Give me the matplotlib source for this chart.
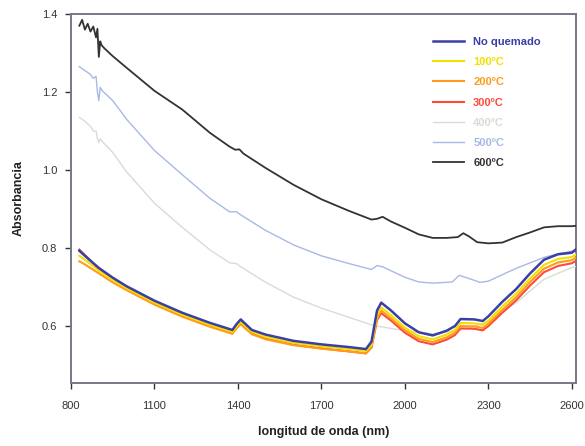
import matplotlib
matplotlib.use("Agg")
import matplotlib.pyplot as plt

plt.rcParams['font.family'] = ['Liberation Sans', 'DejaVu Sans']

# ---- data ----
wl_low = [830, 850, 900, 950, 1000, 1100, 1200, 1300, 1380, 1395, 1410, 1420, 1450, 1500,
          1600, 1700, 1800, 1860, 1880, 1900, 1915, 1950, 2000, 2050, 2100, 2150, 2180,
          2200, 2250, 2280, 2300, 2350, 2400, 2450, 2500, 2550, 2600, 2630]
no_quemado = [0.793, 0.780, 0.749, 0.724, 0.702, 0.665, 0.634, 0.608, 0.590, 0.605, 0.617, 0.610,
              0.590, 0.578, 0.562, 0.553, 0.546, 0.541, 0.560, 0.640, 0.660, 0.640, 0.607, 0.584,
              0.576, 0.588, 0.600, 0.618, 0.617, 0.613, 0.625, 0.662, 0.695, 0.735, 0.770, 0.784,
              0.788, 0.805]
t100 = [0.780, 0.770, 0.742, 0.718, 0.697, 0.660, 0.629, 0.603, 0.585, 0.599, 0.611, 0.604,
        0.585, 0.572, 0.557, 0.548, 0.541, 0.536, 0.552, 0.628, 0.648, 0.628, 0.596, 0.574,
        0.566, 0.578, 0.590, 0.608, 0.607, 0.603, 0.614, 0.650, 0.683, 0.722, 0.757, 0.772,
        0.777, 0.790]
t200 = [0.766, 0.758, 0.735, 0.712, 0.692, 0.655, 0.624, 0.598, 0.580, 0.594, 0.605, 0.598,
        0.579, 0.566, 0.551, 0.542, 0.535, 0.530, 0.546, 0.620, 0.640, 0.620, 0.589, 0.567,
        0.559, 0.571, 0.583, 0.600, 0.599, 0.595, 0.606, 0.641, 0.674, 0.713, 0.747, 0.763,
        0.769, 0.782]
t300 = [0.796, 0.782, 0.746, 0.720, 0.698, 0.660, 0.628, 0.601, 0.583, 0.596, 0.607, 0.600,
        0.581, 0.568, 0.552, 0.543, 0.535, 0.530, 0.545, 0.615, 0.633, 0.614, 0.583, 0.561,
        0.553, 0.565, 0.577, 0.594, 0.593, 0.589, 0.600, 0.634, 0.666, 0.704, 0.738, 0.754,
        0.761, 0.774]

wl_400 = [830, 850, 870, 880, 890, 895, 900, 905, 910, 950, 1000, 1100, 1200, 1300, 1370,
          1395, 1410, 1500, 1600, 1700, 1800, 1880, 1900, 2000, 2100, 2200, 2300, 2400, 2500,
          2600, 2630]
t400 = [1.135, 1.125, 1.112, 1.100, 1.100, 1.080, 1.070, 1.080, 1.075, 1.045, 0.995, 0.915,
        0.853, 0.795, 0.762, 0.760, 0.752, 0.712, 0.674, 0.646, 0.622, 0.603, 0.600, 0.588,
        0.580, 0.590, 0.610, 0.660, 0.720, 0.750, 0.755]

wl_500 = [830, 850, 870, 880, 890, 895, 900, 905, 910, 950, 1000, 1100, 1200, 1300, 1370,
          1395, 1410, 1500, 1600, 1700, 1800, 1880, 1900, 1920, 2000, 2050, 2100, 2170, 2195,
          2230, 2270, 2300, 2360, 2400, 2450, 2500, 2550, 2600, 2630]
t500 = [1.265, 1.255, 1.245, 1.235, 1.240, 1.200, 1.178, 1.212, 1.205, 1.178, 1.130, 1.050,
        0.988, 0.927, 0.893, 0.893, 0.885, 0.845, 0.808, 0.780, 0.760, 0.745, 0.755, 0.752,
        0.725, 0.713, 0.710, 0.713, 0.730, 0.722, 0.712, 0.715, 0.735, 0.748, 0.762, 0.776,
        0.785, 0.792, 0.797]

wl_600 = [830, 840, 850, 860, 870, 880, 890, 895, 900, 905, 910, 920, 950, 1000, 1100, 1200,
          1300, 1370, 1390, 1405, 1420, 1500, 1600, 1700, 1800, 1880, 1900, 1920, 1950, 2000,
          2050, 2100, 2150, 2190, 2210, 2230, 2260, 2300, 2350, 2400, 2450, 2500, 2550, 2600,
          2630]
t600 = [1.370, 1.385, 1.360, 1.375, 1.355, 1.368, 1.340, 1.362, 1.290, 1.330, 1.320, 1.312,
        1.292, 1.262, 1.203, 1.155, 1.095, 1.060, 1.052, 1.053, 1.042, 1.005, 0.962, 0.925,
        0.895, 0.873, 0.875, 0.880, 0.868, 0.852, 0.835, 0.826, 0.826, 0.828, 0.838, 0.830,
        0.815, 0.812, 0.814, 0.828, 0.840, 0.853, 0.856, 0.856, 0.858]

labels = ["No quemado", "100ºC", "200ºC", "300ºC", "400ºC", "500ºC", "600ºC"]
colors = ["#3a3fa8", "#f2e000", "#ff9a1a", "#ff4a3a", "#d6ddd2", "#a9b9e6", "#333333"]
x_ticks = [800, 1100, 1400, 1700, 2000, 2300, 2600]
y_ticks = [0.6, 0.8, 1.0, 1.2, 1.4]

# ---- plot ----
fig = plt.figure(figsize=(5.85, 4.46), dpi=100)
ax = fig.add_axes([71/585, 63/446, 505/585, 369/446])

series = [(wl_low, no_quemado), (wl_low, t100), (wl_low, t200), (wl_low, t300),
          (wl_400, t400), (wl_500, t500), (wl_600, t600)]
widths = [1.8, 1.5, 1.5, 1.5, 1.0, 1.0, 1.3]
order = [4, 5, 6, 3, 2, 1, 0]
handles = {}
for i in order:
    x, y = series[i]
    h, = ax.plot(x, y, color=colors[i], lw=widths[i], label=labels[i], zorder=3)
    handles[i] = h

ax.set_xlim(800, 2615)
ax.set_ylim(0.454, 1.4)
ax.set_xticks(x_ticks)
ax.set_xticklabels([str(t) for t in x_ticks])
ax.set_yticks(y_ticks)
ax.set_yticklabels([f"{t:.1f}" for t in y_ticks])
ax.tick_params(labelsize=8, colors="#333333", length=4, width=1)
ax.tick_params(axis="x", pad=9)
ax.tick_params(axis="y", pad=6)
for s in ax.spines.values():
    s.set_color("#777788")
    s.set_linewidth(1.4)

ax.set_xlabel("longitud de onda (nm)", fontsize=9, fontweight="bold", color="#222222", labelpad=11)
ax.set_ylabel("Absorbancia", fontsize=9, fontweight="bold", color="#222222", labelpad=12)

leg = ax.legend([handles[i] for i in range(7)], labels, loc="upper right",
                bbox_to_anchor=(0.95, 0.965), frameon=False,
                prop={"weight": "bold", "size": 8}, labelcolor="linecolor",
                handlelength=2.8, handletextpad=0.8, labelspacing=0.92)

fig.savefig("out.png", dpi=100)
